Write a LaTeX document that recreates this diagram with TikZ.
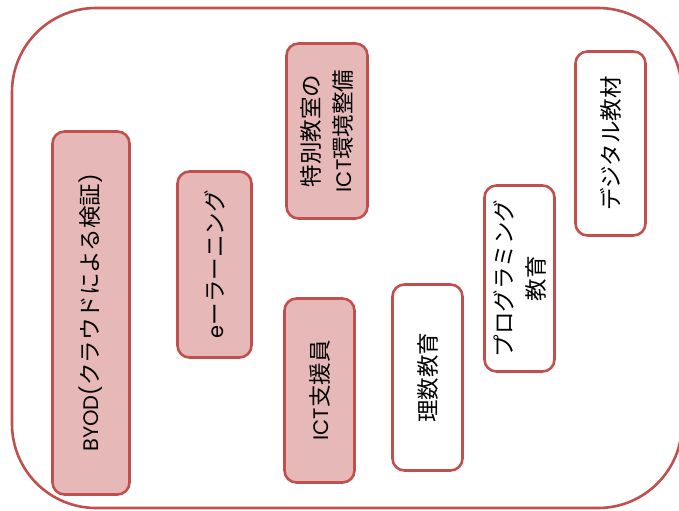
\documentclass[tikz,border=0pt]{standalone}
\usepackage{fontspec}
\setmainfont{Noto Sans CJK JP}
\newfontfamily\latfont{Poppins}
\definecolor{bred}{HTML}{C0504D}
\definecolor{bpink}{HTML}{E6B8B7}
\begin{document}
\begin{tikzpicture}[x=1bp,y=-1bp,
  boxbase/.style={draw=bred, line width=2.6bp, rounded corners=12bp, rotate=90, inner sep=0pt,
    align=center, font=\fontsize{22.5bp}{32bp}\selectfont, text=black},
  pinkbox/.style={boxbase, fill=bpink},
  whitebox/.style={boxbase, fill=white}]
\useasboundingbox (0,0) rectangle (679,511);
\draw[draw=bred, line width=2.6bp, rounded corners=84bp] (12,8) rectangle (682,508) coordinate (frame);
\node[pinkbox, minimum width=363bp, minimum height=77bp] (byod) at (91,313) {{\latfont\fontsize{21bp}{32bp}\selectfont BYOD(}クラウドによる検証{\latfont\fontsize{21bp}{32bp}\selectfont )}};
\node[pinkbox, minimum width=186bp, minimum height=74bp] (elearn) at (214.5,264.5) {{\latfont\fontsize{21bp}{32bp}\selectfont e}ーラーニング};
\node[pinkbox, minimum width=175bp, minimum height=81bp] (tokubetsu) at (327,131) {特別教室の\\{\latfont\fontsize{21bp}{32bp}\selectfont ICT}環境整備};
\node[pinkbox, minimum width=184bp, minimum height=70bp] (shien) at (319.5,390.5) {{\latfont\fontsize{21bp}{32bp}\selectfont ICT}支援員};
\node[whitebox, minimum width=186bp, minimum height=70bp] (risu) at (427.5,377.5) {理数教育};
\node[whitebox, minimum width=186bp, minimum height=70bp] (prog) at (519.5,278.5) {プログラミング\\教育};
\node[whitebox, minimum width=184bp, minimum height=70bp] (digital) at (610.5,143.5) {デジタル教材};
\end{tikzpicture}
\end{document}
